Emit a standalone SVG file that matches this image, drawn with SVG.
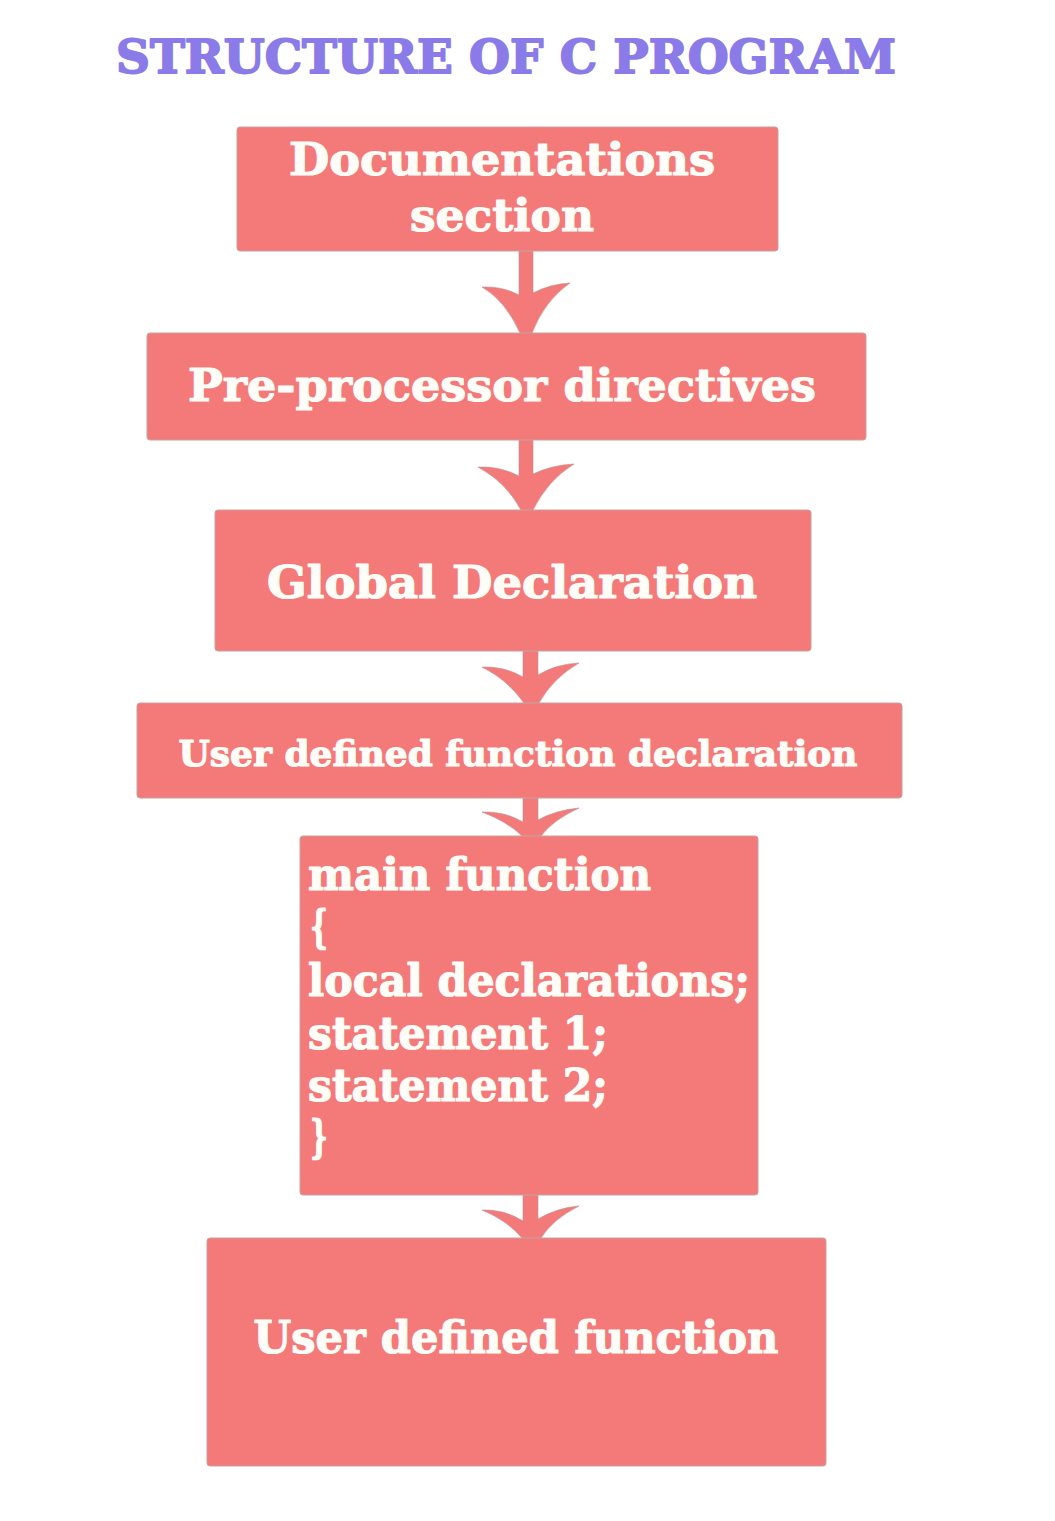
<svg xmlns="http://www.w3.org/2000/svg" width="1055" height="1521" viewBox="0 0 1055 1521">
<style>
.box{fill:#F47A7A;stroke:#C8A0A0;stroke-width:1}
.t{font-family:"DejaVu Serif","Liberation Serif",serif;font-weight:bold;fill:#FFFDF8;stroke:#FFFDF8;stroke-width:1.2;stroke-linejoin:round}
.arr{fill:#F47A7A;stroke:#B89090;stroke-width:0.6}
.title{font-family:"DejaVu Serif","Liberation Serif",serif;font-weight:bold;fill:#8B7BE8;stroke:#8B7BE8;stroke-width:1.8;stroke-linejoin:round}
</style>
<rect width="1055" height="1521" fill="#FFFFFF"/>
<text class="title" x="116" y="73" font-size="47" textLength="780" lengthAdjust="spacingAndGlyphs">STRUCTURE OF C PROGRAM</text>
<g id="connectors">
<path class="arr" d="M519,251 L533,251 L533,293 Q550,284 570,283 Q545,300 532,333 L520,333 Q505,300 482,287 Q502,286 519,295 Z"/>
<path class="arr" d="M519,440 L533,440 L533,474 Q552,465 574,464 Q548,480 533,510 L521,510 Q506,482 478,467 Q500,466 519,476 Z"/>
<path class="arr" d="M523,651 L538,651 L538,675 Q556,664 579,663 Q553,678 539,703 L524,703 Q508,680 482,667 Q504,666 523,677 Z"/>
<path class="arr" d="M523,798 L538,798 L538,820 Q556,810 579,808 Q553,820 541,836 L522,836 Q508,822 482,812 Q504,811 523,822 Z"/>
<path class="arr" d="M523,1195 L538,1195 L538,1219 Q556,1208 579,1206 Q553,1219 541,1238 L522,1238 Q508,1221 482,1210 Q504,1209 523,1221 Z"/>
</g>
<g id="doc">
<rect class="box" x="237" y="127" width="541" height="124" rx="3"/>
<text class="t" x="502" y="175" font-size="45" text-anchor="middle" textLength="426" lengthAdjust="spacingAndGlyphs">Documentations</text>
<text class="t" x="502" y="231" font-size="45" text-anchor="middle" textLength="184" lengthAdjust="spacingAndGlyphs">section</text>
</g>
<g id="preproc">
<rect class="box" x="147" y="333" width="719" height="107" rx="3"/>
<text class="t" x="502" y="401" font-size="45" text-anchor="middle" textLength="628" lengthAdjust="spacingAndGlyphs">Pre-processor directives</text>
</g>
<g id="global">
<rect class="box" x="215" y="510" width="596" height="141" rx="3"/>
<text class="t" x="512" y="598" font-size="45" text-anchor="middle" textLength="490" lengthAdjust="spacingAndGlyphs">Global Declaration</text>
</g>
<g id="udfdecl">
<rect class="box" x="137" y="703" width="765" height="95" rx="3"/>
<text class="t" x="518" y="766" font-size="36" text-anchor="middle" textLength="679" lengthAdjust="spacingAndGlyphs">User defined function declaration</text>
</g>
<g id="main">
<rect class="box" x="300" y="836" width="458" height="359" rx="3"/>
<text class="t" x="308" y="890" font-size="44" textLength="343" lengthAdjust="spacingAndGlyphs">main function</text>
<text class="t" x="310" y="942" font-size="44" textLength="18" lengthAdjust="spacingAndGlyphs">{</text>
<text class="t" x="308" y="996" font-size="44" textLength="442" lengthAdjust="spacingAndGlyphs">local declarations;</text>
<text class="t" x="308" y="1049" font-size="44" textLength="300" lengthAdjust="spacingAndGlyphs">statement 1;</text>
<text class="t" x="308" y="1101" font-size="44" textLength="300" lengthAdjust="spacingAndGlyphs">statement 2;</text>
<text class="t" x="310" y="1152" font-size="44" textLength="18" lengthAdjust="spacingAndGlyphs">}</text>
</g>
<g id="udf">
<rect class="box" x="207" y="1238" width="619" height="228" rx="3"/>
<text class="t" x="516" y="1353" font-size="45" text-anchor="middle" textLength="525" lengthAdjust="spacingAndGlyphs">User defined function</text>
</g>
</svg>
